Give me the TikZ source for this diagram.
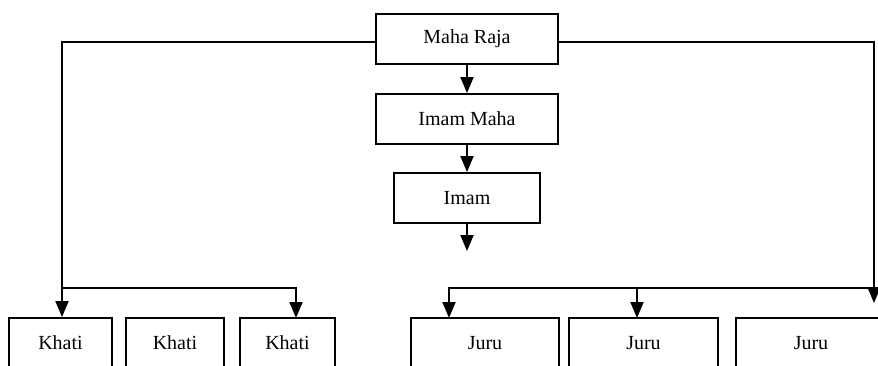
\documentclass[tikz,border=0pt]{standalone}
\usepackage{fontspec}
\setmainfont{Liberation Serif}
\usetikzlibrary{arrows.meta}
\begin{document}
\begin{tikzpicture}[x=1pt,y=-1pt,
  box/.style={draw,line width=1.9pt,inner sep=0pt,minimum height=50pt,font=\fontsize{20}{23}\selectfont},
  conn/.style={line width=1.9pt},
  arr/.style={conn,-{Triangle[width=13pt,length=16pt]}}]
\useasboundingbox (0,0) rectangle (878,365);
\clip (0,0) rectangle (878,365);
\node[box,minimum width=182pt] (mr) at (467,39) {Maha Raja};
\node[box,minimum width=182pt] (imm) at (467,119) {Imam Maha};
\node[box,minimum width=146pt] (imam) at (467,198) {Imam};
\node[box,minimum width=103pt] (k1) at (60.5,343) {Khati};
\node[box,minimum width=98pt] (k2) at (175,343) {Khati};
\node[box,minimum width=95pt] (k3) at (287.5,343) {Khati};
\node[box,minimum width=148pt] (j1) at (485,343) {Juru};
\node[box,minimum width=149pt] (j2) at (643.5,343) {Juru};
\node[box,minimum width=150pt] (j3) at (811,343) {Juru};
\coordinate (imend) at (467,251);
\coordinate (rend) at (874,303);
\coordinate (kb) at (62,288);
\coordinate (jb) at (874,288);
\coordinate (k3in) at (296,318);
\coordinate (j1in) at (449,318);
\coordinate (j2in) at (637,318);
\draw[arr] ([yshift=-3pt]mr.west) -| (kb) -- (kb |- k1.north);
\draw[arr] ([yshift=-3pt]mr.east) -| (rend);
\draw[arr] (mr.south) -- (imm.north);
\draw[arr] (imm.south) -- (imam.north);
\draw[arr] (imam.south) -- (imend);
\draw[arr] (kb) -| (k3in);
\draw[arr] (jb) -| (j1in);
\draw[arr] (j2in |- jb) -- (j2in);
\end{tikzpicture}
\end{document}
